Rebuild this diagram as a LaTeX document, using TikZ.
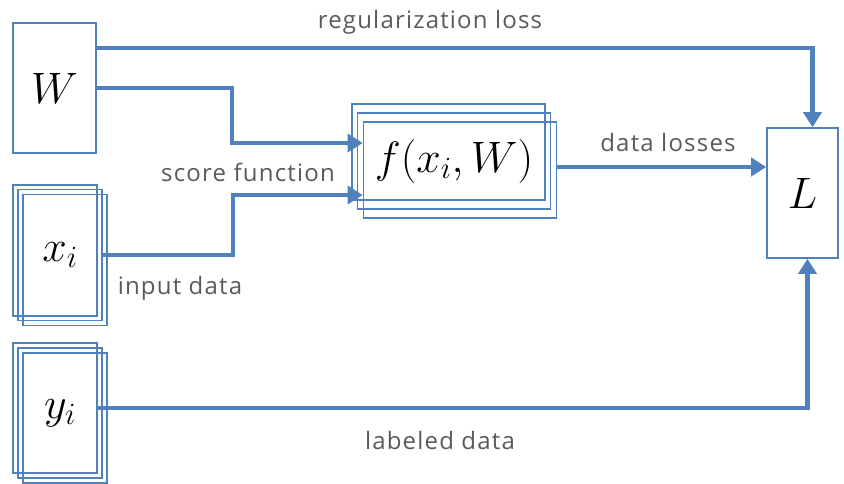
\RequirePackage{fix-cm}
\documentclass[tikz,border=0pt]{standalone}
\usepackage{amsmath}
\usepackage{fontspec}
\usetikzlibrary{arrows.meta,positioning}
\newfontfamily\labelfont[LetterSpace=5]{Open Sans}
\definecolor{boxblue}{RGB}{79,129,189}
\definecolor{labelgray}{RGB}{90,90,90}
\tikzset{
  box/.style={draw=boxblue,line width=1.6pt,inner sep=0pt,
    font=\fontsize{44}{48}\selectfont},
  flow/.style={draw=boxblue,line width=4.5pt,
    -{Triangle[length=15pt,width=18pt]}},
  tag/.style={text=labelgray,font=\labelfont\fontsize{24}{28}\selectfont}
}

\begin{document}
\begin{tikzpicture}[x=1pt,y=-1pt]
\useasboundingbox (0,0) rectangle (844,483);
\node[box,minimum width=83pt,minimum height=130pt] (W) at (54.5,88) {$W$};
% stacked inputs
\node[box,minimum width=84pt,minimum height=131pt] (x1) at (55,250.5) {};
\node[box,minimum width=84pt,minimum height=131pt] (x2) at (60,255) {$x_i$};
\node[box,minimum width=84pt,minimum height=131pt] (x3) at (65,260) {};
\node[box,minimum width=84pt,minimum height=130pt] (y1) at (55,408) {};
\node[box,minimum width=84pt,minimum height=130pt] (y2) at (60,413) {$y_i$};
\node[box,minimum width=84pt,minimum height=130pt] (y3) at (65,418) {};
% score function
\node[box,minimum width=193pt,minimum height=96pt] (f1) at (448.5,152) {};
\node[box,minimum width=193pt,minimum height=96pt] (f2) at (454,161) {$f(x_i,W)$};
\node[box,minimum width=193pt,minimum height=96pt] (f3) at (460,170) {};
\node[box,minimum width=71pt,minimum height=130pt] (L) at (802.5,193) {$L$};
\path[flow]
([yshift=-26pt]W.north east) -| ([xshift=10pt]L.north);
\path[flow]
(W.east) -- ++(135,0) |- ([yshift=27pt]f3.west);
\path[flow]
(x2.east) -- ++(130,0) |- ([yshift=-25pt]f3.west);
\path[flow]
([yshift=3pt]f3.east) -- ([yshift=26pt]L.west);
\path[flow]
(y1.east) -| ([xshift=5pt]L.south);
\node[tag] (reg) at (430,22) {regularization loss};
\node[tag] (score) at (248,172) {score function};
\node[tag] (input) at (180,288) {input data};
\node[tag] (loss) at (668,142) {data losses};
\node[tag] (lab) at (440,440) {labeled data};
\end{tikzpicture}
\end{document}
